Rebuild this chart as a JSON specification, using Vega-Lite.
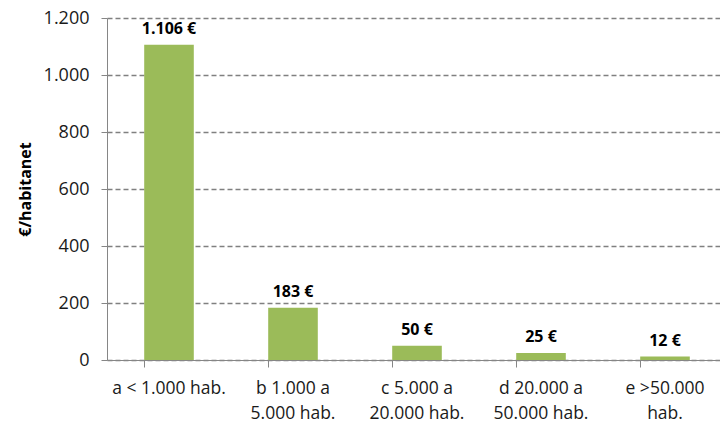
{
  "$schema": "https://vega.github.io/schema/vega-lite/v6.json",
  "autosize": "none",
  "padding": {"left": 107, "top": 18, "right": 0, "bottom": 63},
  "width": 620,
  "height": 342,
  "background": "white",
  "config": {
    "font": "Open Sans",
    "view": {"stroke": null}
  },
  "data": {
    "values": [
      {"cat": "a < 1.000 hab.", "value": 1106, "label": "1.106 €"},
      {"cat": "b 1.000 a|5.000 hab.", "value": 183, "label": "183 €"},
      {"cat": "c 5.000 a|20.000 hab.", "value": 50, "label": "50 €"},
      {"cat": "d 20.000 a|50.000 hab.", "value": 25, "label": "25 €"},
      {"cat": "e >50.000|hab.", "value": 12, "label": "12 €"}
    ]
  },
  "encoding": {
    "x": {
      "field": "cat",
      "type": "nominal",
      "sort": null,
      "scale": {"paddingInner": 0.6, "paddingOuter": 0.3},
      "axis": {
        "title": null,
        "labelAngle": 0,
        "labelExpr": "split(datum.value, '|')",
        "labelFont": "Open Sans",
        "labelFontSize": 17.5,
        "labelColor": "#1a1a1a",
        "labelLineHeight": 25,
        "labelPadding": 12,
        "labelBaseline": "top",
        "domainColor": "#868686",
        "tickColor": "#868686",
        "tickSize": 7,
        "bandPosition": 0,
        "grid": false
      }
    }
  },
  "layer": [
    {
      "mark": {"type": "bar", "color": "#9BBB59"},
      "encoding": {
        "y": {
          "field": "value",
          "type": "quantitative",
          "scale": {"domain": [0, 1200]},
          "axis": {
            "title": "€/habitanet",
            "titleFont": "Open Sans",
            "titleFontSize": 16,
            "titleFontWeight": "bold",
            "titleColor": "#000000",
            "titlePadding": 10,
            "values": [0, 200, 400, 600, 800, 1000, 1200],
            "labelExpr": "replace(format(datum.value, ','), ',', '.')",
            "labelFont": "Open Sans",
            "labelFontSize": 18,
            "labelColor": "#1a1a1a",
            "labelPadding": 12,
            "domainColor": "#868686",
            "tickColor": "#868686",
            "tickSize": 6,
            "grid": true,
            "gridColor": "#808080",
            "gridDash": [5, 3],
            "gridWidth": 1.5
          }
        }
      }
    },
    {
      "mark": {"type": "text", "baseline": "bottom", "dy": -8, "fontWeight": "bold", "fontSize": 16, "font": "Open Sans", "color": "#000000"},
      "encoding": {
        "y": {"field": "value", "type": "quantitative"},
        "text": {"field": "label"}
      }
    }
  ]
}
